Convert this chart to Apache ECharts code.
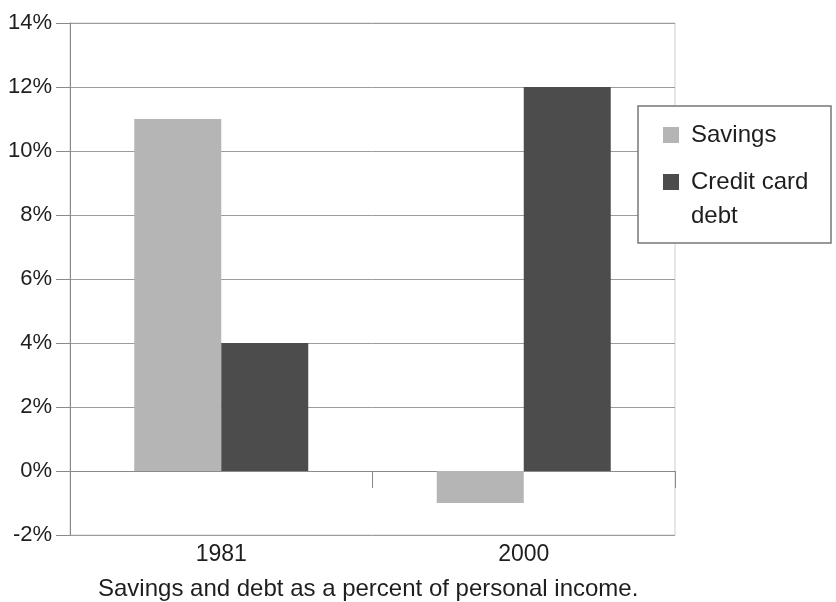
<!DOCTYPE html>
<html>
<head>
<meta charset="utf-8">
<script src="https://cdn.jsdelivr.net/npm/echarts@6/dist/echarts.min.js"></script>
<style>
  html, body { margin: 0; padding: 0; background: #fff; }
  #chart { width: 836px; height: 602px; }
</style>
</head>
<body>
<div id="chart"></div>
<script>
// Savings vs credit card debt, percent of personal income
const years = ["1981", "2000"];
const savings = [11, -1];
const creditDebt = [4, 12];
const seriesNames = ["Savings", "Credit card debt"];
const caption = "Savings and debt as a percent of personal income.";

const font = "Liberation Sans, Arial, sans-serif";
const textColor = "#1e1e1e";

const chart = echarts.init(document.getElementById("chart"), null, { renderer: "canvas" });

chart.setOption({
    backgroundColor: "#fff",
    animation: false,
    textStyle: { fontFamily: font },
    grid: {
        left: 70,
        right: 161,
        top: 23,
        bottom: 67,
        containLabel: false,
        outerBoundsMode: "none",
        show: true,
        borderColor: "#cfcfcf",
        borderWidth: 1,
    },
    graphic: [
        {
            type: "rect",
            z: 3,
            shape: { x: 638, y: 106, width: 193, height: 137 },
            style: { fill: "#fff", stroke: "#777", lineWidth: 1.5 },
        },
        {
            type: "text",
            z: 3,
            left: 98,
            top: 577,
            style: {
                text: caption,
                font: "24px " + font,
                fill: textColor,
            },
        },
    ],
    legend: [
        {
            data: [{ name: seriesNames[0], textStyle: { lineHeight: 24, padding: [0, 0, 0, 7] } }],
            left: 663,
            top: 123,
            padding: 0,
            itemWidth: 16,
            itemHeight: 16,
            icon: "rect",
            selectedMode: false,
            textStyle: { fontSize: 24, color: textColor, fontFamily: font },
        },
        {
            // blank first line keeps the icon level with "Credit card"
            data: [{ name: seriesNames[1], textStyle: { lineHeight: 34, padding: [0, 0, 0, 7] } }],
            left: 663,
            top: 131,
            padding: 0,
            itemWidth: 16,
            itemHeight: 16,
            icon: "rect",
            selectedMode: false,
            formatter: () => " \nCredit card\ndebt",
            textStyle: { fontSize: 24, color: textColor, fontFamily: font },
        },
    ],
    xAxis: {
        type: "category",
        data: years,
        axisLine: { onZero: true, lineStyle: { color: "#8a8a8a", width: 1 } },
        axisTick: { show: true, length: 17, lineStyle: { color: "#8a8a8a" } },
        // labels sit below the plot box, not at the zero line
        axisLabel: { margin: 8, fontSize: 23, color: textColor, fontFamily: font },
        splitLine: { show: false },
    },
    yAxis: {
        type: "value",
        min: -2,
        max: 14,
        interval: 2,
        axisLine: { show: true, lineStyle: { color: "#8a8a8a", width: 1 } },
        axisTick: { show: true, length: 14, lineStyle: { color: "#8a8a8a" } },
        axisLabel: {
            formatter: "{value}%",
            margin: 18,
            fontSize: 22,
            color: textColor,
            fontFamily: font,
        },
        splitLine: { show: true, lineStyle: { color: "#9c9c9c", width: 1 } },
    },
    series: [
        {
            name: seriesNames[0],
            type: "bar",
            data: savings,
            barWidth: 87,
            barGap: "0%",
            itemStyle: { color: "#b5b5b5" },
        },
        {
            name: seriesNames[1],
            type: "bar",
            data: creditDebt,
            barWidth: 87,
            barGap: "0%",
            itemStyle: { color: "#4c4c4c" },
        },
    ],
});
</script>
</body>
</html>
